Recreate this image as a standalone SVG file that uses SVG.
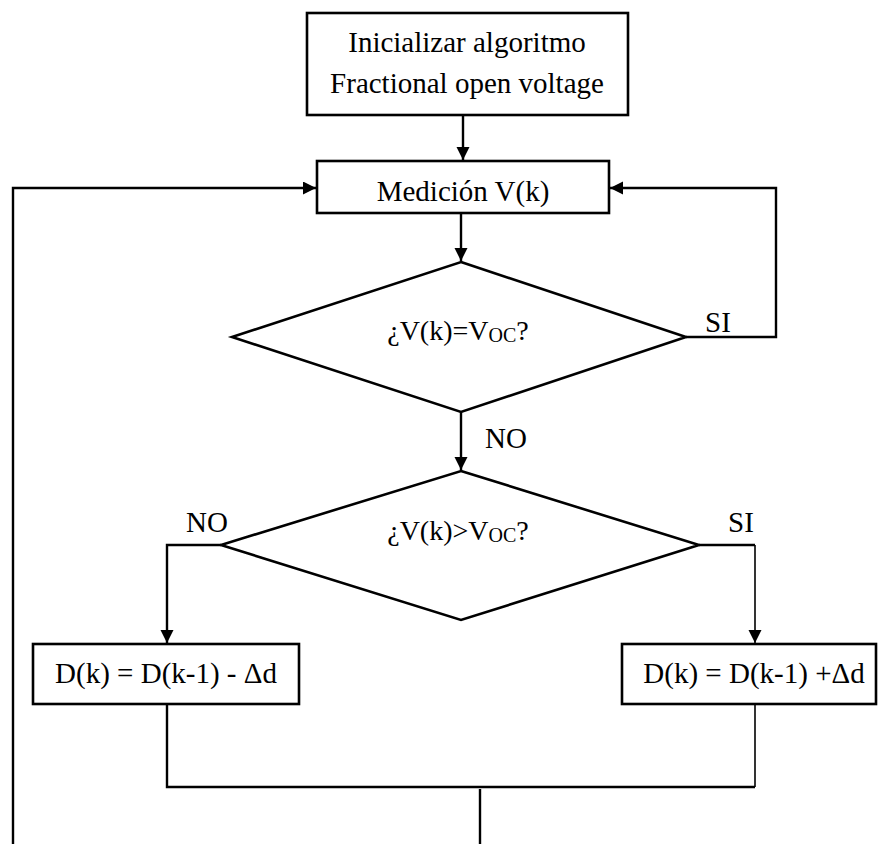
<svg xmlns="http://www.w3.org/2000/svg" width="878" height="844" viewBox="0 0 878 844">
  <style>
    .box { fill: #fff; stroke: #000; stroke-width: 2.6; }
    .line { fill: none; stroke: #000; stroke-width: 2.4; }
    .thin { fill: none; stroke: #000; stroke-width: 1.6; }
    .t { font-family: "Liberation Serif", "Times New Roman", serif; font-size: 29px; fill: #000; }
    .q { font-family: "Liberation Serif", "Times New Roman", serif; font-size: 28px; fill: #000; }
    .sub { font-size: 20px; }
  </style>
  <defs>
    <marker id="arrow" markerWidth="14" markerHeight="14" refX="13" refY="6.5" orient="auto" markerUnits="userSpaceOnUse">
      <path d="M0,0 L13,6.5 L0,13 Z" fill="#000"/>
    </marker>
  </defs>

  <rect width="878" height="844" fill="#fff"/>

  <!-- connectors -->
  <g id="connectors">
    <!-- start -> measurement -->
    <line class="line" x1="463" y1="115" x2="463" y2="160" marker-end="url(#arrow)"/>
    <!-- measurement -> first decision -->
    <line class="line" x1="461" y1="213" x2="461" y2="261" marker-end="url(#arrow)"/>
    <!-- SI loop back to measurement -->
    <polyline class="line" points="686,337 776,337 776,188 610,188" marker-end="url(#arrow)"/>
    <!-- NO -> second decision -->
    <line class="line" x1="461" y1="412" x2="461" y2="470" marker-end="url(#arrow)"/>
    <!-- second decision NO branch -->
    <polyline class="line" points="221,545 167,545 167,643" marker-end="url(#arrow)"/>
    <!-- second decision SI branch -->
    <polyline class="line" points="699,545 755,545" />
    <line class="thin" x1="755" y1="545" x2="755" y2="643" marker-end="url(#arrow)"/>
    <!-- merge below update boxes -->
    <polyline class="line" points="167,705 167,787 755,787"/>
    <line class="thin" x1="755" y1="705" x2="755" y2="787"/>
    <line class="line" x1="480" y1="789" x2="480" y2="844" stroke-width="3"/>
    <!-- return path to measurement -->
    <polyline class="line" points="13,844 13,188 316,188" marker-end="url(#arrow)"/>
  </g>

  <g id="start">
    <rect class="box" x="307" y="13" width="321" height="102"/>
    <text class="t" x="467" y="52" text-anchor="middle">Inicializar algoritmo</text>
    <text class="t" x="467" y="93" text-anchor="middle">Fractional open voltage</text>
  </g>

  <g id="measure">
    <rect class="box" x="317" y="161" width="292" height="52"/>
    <text class="t" x="463" y="201" text-anchor="middle">Medición V(k)</text>
  </g>

  <g id="decision-equal">
    <polygon class="box" points="461,262 686,337 461,412 232,337"/>
    <text class="q" x="458" y="340" text-anchor="middle">¿V(k)=V<tspan class="sub" dy="2">OC</tspan><tspan dy="-2">?</tspan></text>
    <text class="t" x="705" y="332">SI</text>
    <text class="t" x="485" y="448">NO</text>
  </g>

  <g id="decision-greater">
    <polygon class="box" points="461,471 699,545 461,620 221,545"/>
    <text class="q" x="458" y="540" text-anchor="middle">¿V(k)&gt;V<tspan class="sub" dy="2">OC</tspan><tspan dy="-2">?</tspan></text>
    <text class="t" x="186" y="532">NO</text>
    <text class="t" x="728" y="532">SI</text>
  </g>

  <g id="decrease">
    <rect class="box" x="33" y="644" width="266" height="60"/>
    <text class="t" x="166" y="683" text-anchor="middle">D(k) = D(k-1) - Δd</text>
  </g>

  <g id="increase">
    <rect class="box" x="622" y="644" width="254" height="60"/>
    <text class="t" x="754" y="683" text-anchor="middle">D(k) = D(k-1) +Δd</text>
  </g>
</svg>
